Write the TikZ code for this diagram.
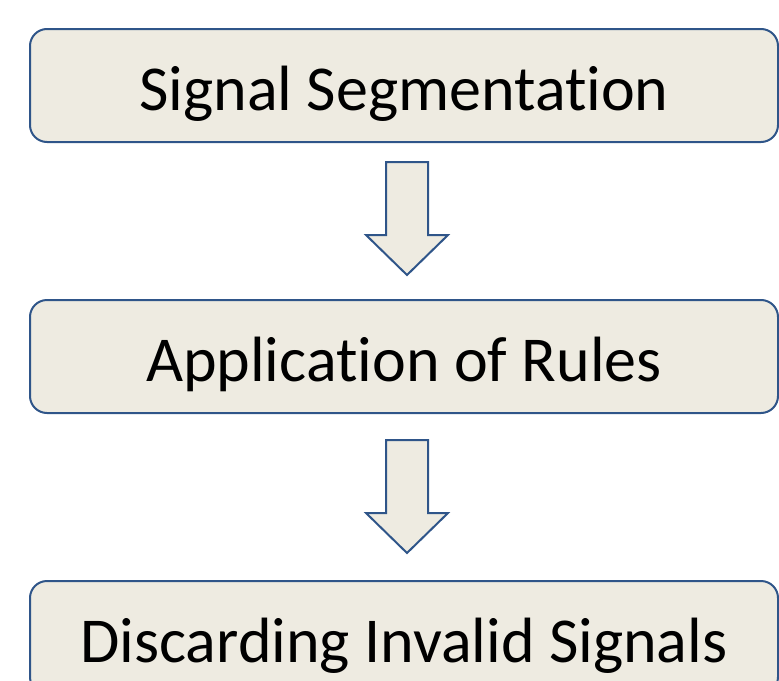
\documentclass[tikz,border=0pt]{standalone}
\usepackage{fontspec}
\setmainfont[Ligatures=NoCommon]{Carlito}
\usetikzlibrary{calc}
\definecolor{stepfill}{HTML}{EEEBE1}
\definecolor{stepline}{HTML}{2F5589}
\tikzset{
  stepbox/.style={draw=stepline, fill=stepfill, line width=2pt,
    rounded corners=17pt, minimum width=748pt, minimum height=113pt,
    inner sep=0pt, text height=49pt, text depth=0pt,
    font=\fontsize{64}{70}\selectfont},
  blockarrow/.style={draw=stepline, fill=stepfill, line width=2pt, line join=miter}
}
\begin{document}
\begin{tikzpicture}[x=1pt, y=-1pt]
  \useasboundingbox (0,0) rectangle (779,680);
  \clip (0,0) rectangle (779,680);
  \node[stepbox] (seg)  at (404,85.5)  {Signal Segmentation};
  \node[stepbox] (rules) at (404,356.5) {Application of Rules};
  \node[stepbox] (disc) at (404,637.5) {Discarding Invalid Signals};
  % block arrows between the stages: shaft 42 wide, head 82 wide and 40 tall
  \foreach \a/\b/\gap in {seg/rules/19, rules/disc/26}{
    \coordinate (top) at ($(\a.south)+(3,\gap)$);
    \coordinate (tip) at ($(top)+(0,113)$);
    \draw[blockarrow] ($(top)+(-21,0)$) -- ($(top)+(21,0)$)
      -- ($(tip)+(21,-40)$) -- ($(tip)+(41,-40)$) -- (tip)
      -- ($(tip)+(-41,-40)$) -- ($(tip)+(-21,-40)$) -- cycle;
  }
\end{tikzpicture}
\end{document}
